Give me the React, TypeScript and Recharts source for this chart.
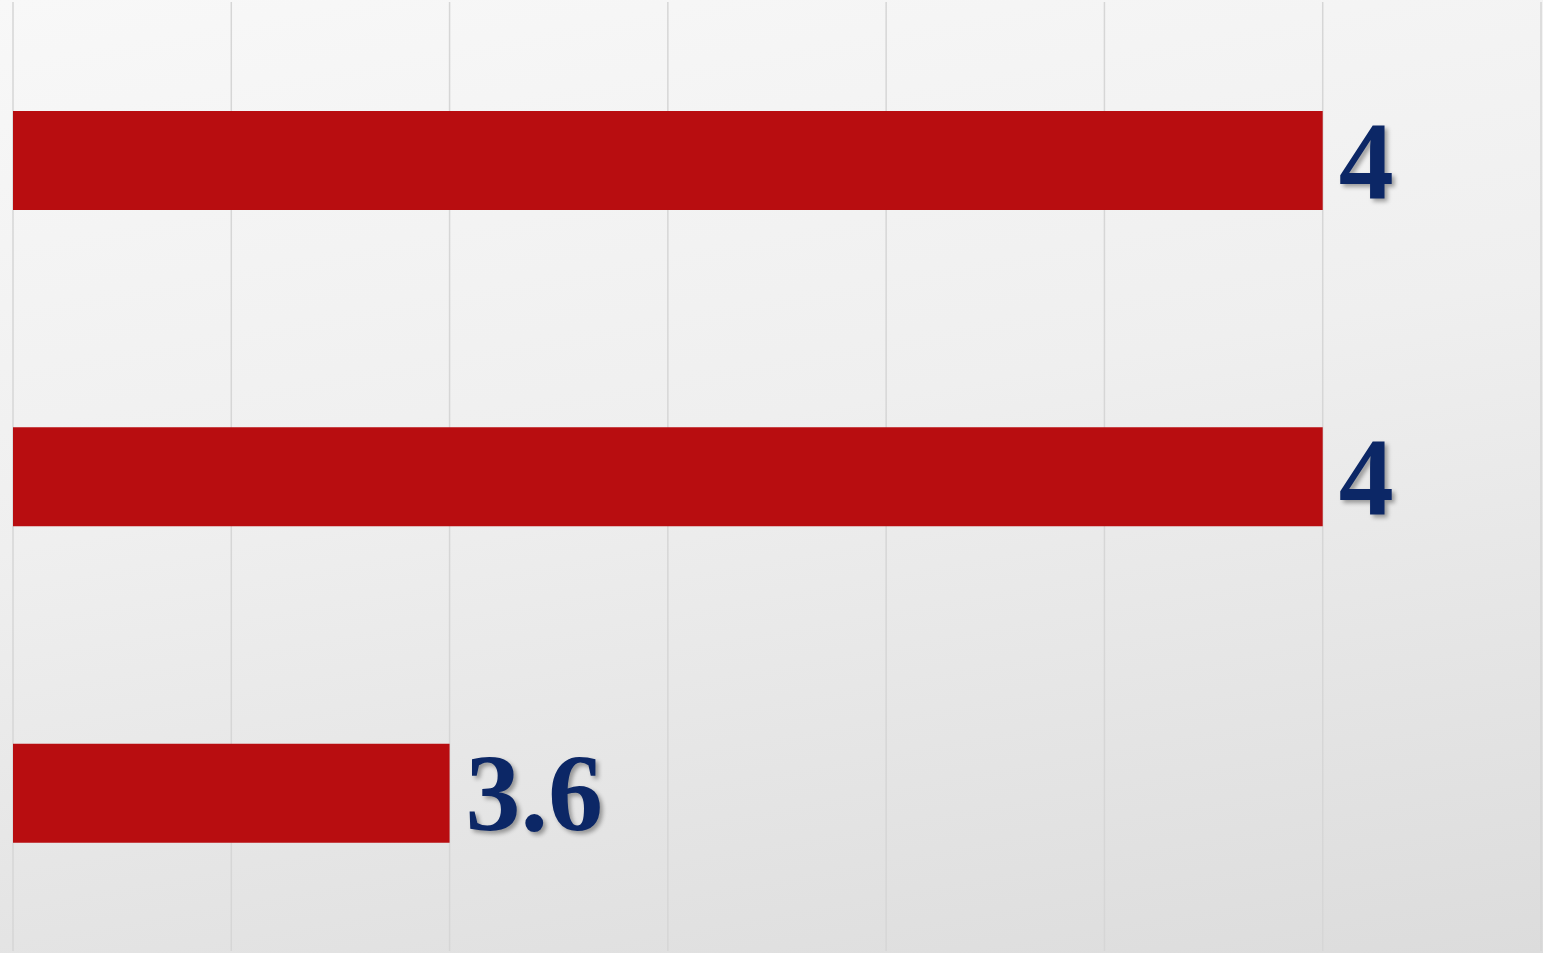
import { BarChart, Bar, XAxis, YAxis, CartesianGrid, LabelList } from "recharts";

const categories = ["Item 1", "Item 2", "Item 3"];
const values = [4, 4, 3.6];
const xTicks = [3.4, 3.5, 3.6, 3.7, 3.8, 3.9, 4.0, 4.1];

const data = categories.map((name, i) => ({ name, value: values[i] }));

function ValueLabel(props: any) {
  const { x, y, width, height, value } = props;
  return (
    <text
      x={x + width + 16}
      y={y + height / 2}
      dominantBaseline="central"
      fill="#0c2766"
      style={{
        fontFamily: "'Liberation Serif', 'Times New Roman', Tinos, serif",
        fontSize: 110,
        fontWeight: 700,
        filter: "drop-shadow(3px 3px 2px rgba(0,0,0,0.35))",
      }}
    >
      {value}
    </text>
  );
}

export default function App() {
  return (
    <div
      style={{
        position: "fixed",
        left: 0,
        top: 0,
        width: 1543,
        height: 953,
        background: "linear-gradient(170deg, #f8f8f8 0%, #efefef 45%, #dcdcdc 100%)",
      }}
    >
      <BarChart
        width={1543}
        height={953}
        data={data}
        layout="vertical"
        margin={{ top: 2, right: 2, bottom: 2, left: 13 }}
        barSize={99}
      >
        <CartesianGrid horizontal={false} stroke="#d6d6d6" strokeWidth={1.5} />
        <XAxis type="number" domain={[3.4, 4.1]} ticks={xTicks} hide />
        <YAxis type="category" dataKey="name" hide />
        <Bar dataKey="value" fill="#b80d10" isAnimationActive={false}>
          <LabelList dataKey="value" content={ValueLabel} />
        </Bar>
      </BarChart>
    </div>
  );
}
